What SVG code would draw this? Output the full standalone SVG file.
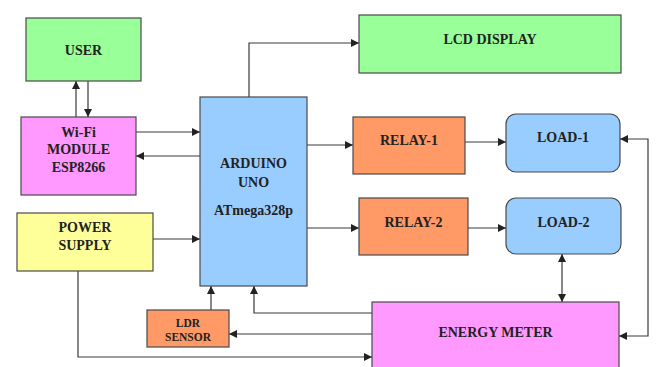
<svg xmlns="http://www.w3.org/2000/svg" width="657" height="367" viewBox="0 0 657 367">
<defs>
<style>
.box{stroke:#4a4a4a;stroke-width:1.2}
.t{font-family:"Liberation Serif","Times New Roman",serif;font-weight:bold;font-size:14px;fill:#222;text-anchor:middle}
.s{font-size:11.5px}
.c{fill:none;stroke:#3a3a3a;stroke-width:1.2}
</style>
<marker id="a" viewBox="0 0 10 10" refX="10" refY="5" markerWidth="8" markerHeight="8" markerUnits="userSpaceOnUse" orient="auto-start-reverse">
<path d="M0,0 L10,5 L0,10 z" fill="#222"/>
</marker>
</defs>
<rect width="657" height="367" fill="#fff"/>
<g id="connectors">
<path class="c" d="M76,117 V81" marker-end="url(#a)"/>
<path class="c" d="M88,81 V117" marker-end="url(#a)"/>
<path class="c" d="M136,132 H200" marker-end="url(#a)"/>
<path class="c" d="M200,156 H136" marker-end="url(#a)"/>
<path class="c" d="M249,97 V43 H359" marker-end="url(#a)"/>
<path class="c" d="M307,145 H353" marker-end="url(#a)"/>
<path class="c" d="M465,142 H506" marker-end="url(#a)"/>
<path class="c" d="M307,228 H359" marker-end="url(#a)"/>
<path class="c" d="M468,228 H506" marker-end="url(#a)"/>
<path class="c" d="M562,254 V302" marker-start="url(#a)" marker-end="url(#a)"/>
<path class="c" d="M620,139 H648 V336 H619" marker-start="url(#a)" marker-end="url(#a)"/>
<path class="c" d="M153,239 H200" marker-end="url(#a)"/>
<path class="c" d="M78,271 V357 H372" marker-end="url(#a)"/>
<path class="c" d="M211,310 V286" marker-end="url(#a)"/>
<path class="c" d="M372,313 H254 V286" marker-end="url(#a)"/>
<path class="c" d="M372,334 H229" marker-end="url(#a)"/>
</g>
<g id="user">
<rect class="box" x="26" y="18" width="115" height="63" fill="#99ff99"/>
<text class="t" x="83.5" y="55">USER</text>
</g>
<g id="wifi">
<rect class="box" x="21" y="117" width="115" height="78" fill="#ff99ff"/>
<text class="t" x="78.5" y="137">Wi-Fi</text>
<text class="t" x="78.5" y="154">MODULE</text>
<text class="t" x="78.5" y="172">ESP8266</text>
</g>
<g id="arduino">
<rect class="box" x="200" y="97" width="107" height="189" fill="#99ccff"/>
<text class="t" x="253.5" y="168">ARDUINO</text>
<text class="t" x="253.5" y="187">UNO</text>
<text class="t" x="253.5" y="215">ATmega328p</text>
</g>
<g id="lcd">
<rect class="box" x="359" y="15" width="262" height="58" fill="#99ff99"/>
<text class="t" x="490" y="44">LCD DISPLAY</text>
</g>
<g id="relay1">
<rect class="box" x="353" y="117" width="112" height="57" fill="#ff9966"/>
<text class="t" x="409" y="145">RELAY-1</text>
</g>
<g id="load1">
<rect class="box" x="506" y="114" width="114" height="58" rx="10" fill="#99ccff"/>
<text class="t" x="563" y="142">LOAD-1</text>
</g>
<g id="relay2">
<rect class="box" x="359" y="198" width="109" height="57" fill="#ff9966"/>
<text class="t" x="413.5" y="227">RELAY-2</text>
</g>
<g id="load2">
<rect class="box" x="506" y="198" width="115" height="56" rx="10" fill="#99ccff"/>
<text class="t" x="563.5" y="227">LOAD-2</text>
</g>
<g id="power">
<rect class="box" x="17" y="213" width="136" height="58" fill="#ffff99"/>
<text class="t" x="85" y="232">POWER</text>
<text class="t" x="85" y="249.5">SUPPLY</text>
</g>
<g id="ldr">
<rect class="box" x="147" y="310" width="82" height="37" fill="#ff9966"/>
<text class="t s" x="188" y="327">LDR</text>
<text class="t s" x="188" y="341">SENSOR</text>
</g>
<g id="energy">
<rect class="box" x="372" y="302" width="247" height="70" fill="#ff99ff"/>
<text class="t" x="495.5" y="337">ENERGY METER</text>
</g>
</svg>
